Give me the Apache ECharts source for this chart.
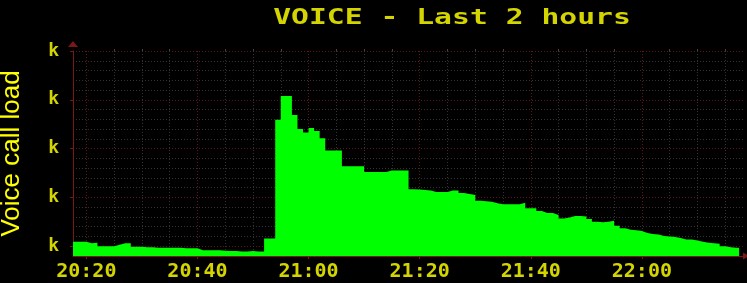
<!DOCTYPE html>
<html>
<head>
<meta charset="utf-8">
<script src="https://cdn.jsdelivr.net/npm/echarts@6/dist/echarts.min.js"></script>
<style>
  html, body { margin: 0; padding: 0; background: #000; }
  #chart { width: 747px; height: 283px; }
</style>
</head>
<body>
<div id="chart"></div>
<script>
// ---- data (minutes since midnight, load in k) ----
const titleText = 'VOICE - Last 2 hours';
const yAxisTitle = 'Voice call load';
const firstMinute = 1217;          // 20:17, one sample per minute
const lastMinute = 1337.5;         // end of last sample
const loadK = [
  1.09, 1.09, 1.09, 1.06, 1.07, 1.00, 1.00, 1.00, 1.03, 1.06,
  1.06, 0.99, 0.99, 0.98, 0.98, 0.97, 0.97, 0.97, 0.97, 0.97,
  0.96, 0.96, 0.96, 0.92, 0.92, 0.92, 0.92, 0.91, 0.90, 0.90,
  0.89, 0.89, 0.90, 0.89, 0.89, 1.16, 1.16, 3.59, 4.08, 4.08,
  3.69, 3.40, 3.33, 3.42, 3.36, 3.21, 2.96, 2.96, 2.96, 2.64,
  2.64, 2.64, 2.64, 2.52, 2.52, 2.52, 2.52, 2.55, 2.55, 2.55,
  2.55, 2.17, 2.16, 2.15, 2.14, 2.11, 2.11, 2.11, 2.14, 2.14,
  2.09, 2.07, 2.05, 1.93, 1.92, 1.91, 1.88, 1.86, 1.86, 1.86,
  1.86, 1.89, 1.78, 1.78, 1.72, 1.68, 1.68, 1.64, 1.57, 1.59,
  1.62, 1.62, 1.61, 1.56, 1.50, 1.49, 1.50, 1.52, 1.42, 1.37,
  1.34, 1.33, 1.31, 1.27, 1.25, 1.24, 1.21, 1.20, 1.19, 1.17,
  1.14, 1.14, 1.12, 1.09, 1.07, 1.06, 1.05, 1.00, 0.98, 0.97,
  0.97
];
const xMajorTicks = [1220, 1240, 1260, 1280, 1300, 1320];           // 20:20 ... 22:00
const xMinorTicks = [1225, 1230, 1235, 1245, 1250, 1255, 1265, 1270, 1275,
                     1285, 1290, 1295, 1305, 1310, 1315, 1325, 1330, 1335];
const yMajorTicks = [1, 2, 3, 4, 5];
const yMinorTicks = [1.2, 1.4, 1.6, 1.8, 2.2, 2.4, 2.6, 2.8, 3.2, 3.4, 3.6, 3.8,
                     4.2, 4.4, 4.6, 4.8];
const yLabelText = 'k';

const seriesData = loadK.map((v, i) => [firstMinute + i, v]);
seriesData.push([lastMinute, loadK[loadK.length - 1]]);

function hhmm(v) {
  const h = Math.floor(v / 60), m = Math.round(v % 60);
  return h + ':' + (m < 10 ? '0' + m : m);
}

const yellow = '#d4d400';
const majorGrid = '#5e1818';
const minorGrid = '#333333';
const axisRed = '#7a1818';

const chart = echarts.init(document.getElementById('chart'));
chart.setOption({
  backgroundColor: '#000000',
  animation: false,
  graphic: [{
    type: 'text',
    x: 452, y: 18,
    scaleX: 1.35,
    style: {
      text: titleText,
      font: 'bold 22px "DejaVu Sans Mono"',
      fill: yellow,
      align: 'center',
      verticalAlign: 'middle'
    }
  }],
  grid: { left: 73, right: 4, top: 51, bottom: 27, outerBoundsMode: 'none', containLabel: false },
  xAxis: [{
    type: 'value',
    min: 1217.6, max: 1338.2,
    axisLine: { show: true, onZero: false, lineStyle: { color: axisRed, width: 1 },
                symbol: ['none', 'triangle'], symbolSize: [7, 6], symbolOffset: [0, 3] },
    axisTick: { show: true, customValues: xMajorTicks, length: 3, lineStyle: { color: axisRed } },
    axisLabel: { customValues: xMajorTicks, formatter: hhmm, color: yellow,
                 fontFamily: 'DejaVu Sans Mono', fontWeight: 'bold', fontSize: 20, margin: 6 },
    splitLine: { show: true, lineStyle: { color: majorGrid, type: [1, 2], width: 1 } }
  }, {
    type: 'value',
    min: 1217.6, max: 1338.2,
    axisLine: { show: false },
    axisTick: { show: true, customValues: xMinorTicks, length: 2, lineStyle: { color: '#444' } },
    axisLabel: { show: false, customValues: xMinorTicks },
    splitLine: { show: true, lineStyle: { color: minorGrid, type: [1, 2], width: 1 } }
  }],
  yAxis: [{
    type: 'value',
    min: 0.8, max: 5,
    name: yAxisTitle,
    nameLocation: 'middle',
    nameRotate: 90,
    nameGap: 48,
    nameMoveOverlap: false,
    nameTextStyle: { color: '#ffff00', fontFamily: 'Liberation Sans', fontSize: 26 },
    axisLine: { show: true, lineStyle: { color: axisRed, width: 1 },
                symbol: ['none', 'triangle'], symbolSize: [10, 6], symbolOffset: [0, 7] },
    axisTick: { show: true, customValues: yMajorTicks, length: 3, lineStyle: { color: axisRed } },
    axisLabel: { customValues: yMajorTicks, formatter: () => yLabelText, color: yellow,
                 fontFamily: 'DejaVu Sans Mono', fontWeight: 'bold', fontSize: 18, margin: 14 },
    splitLine: { show: true, lineStyle: { color: majorGrid, type: [1, 2], width: 1 } }
  }, {
    type: 'value',
    min: 0.8, max: 5,
    axisLine: { show: false },
    axisLabel: { show: false, customValues: yMinorTicks },
    axisTick: { show: false, customValues: yMinorTicks },
    splitLine: { show: true, lineStyle: { color: minorGrid, type: [1, 2], width: 1 } }
  }],
  series: [{
    type: 'line',
    xAxisIndex: 0,
    yAxisIndex: 0,
    step: 'end',
    data: seriesData,
    symbol: 'none',
    lineStyle: { color: '#00ff00', width: 0 },
    areaStyle: { color: '#00ff00', opacity: 1 },
    z: 5
  }]
});
</script>
</body>
</html>
